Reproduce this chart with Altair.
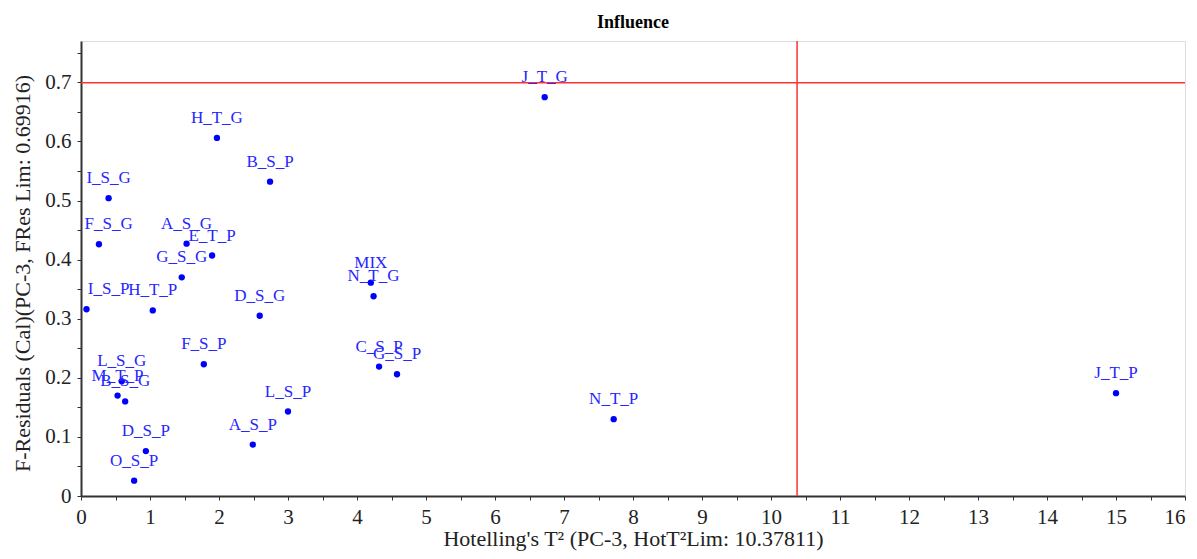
import altair as alt
import pandas as pd
import numpy as np

names = ["J_T_G", "H_T_G", "B_S_P", "I_S_G", "F_S_G", "A_S_G", "E_T_P", "G_S_G",
         "MIX", "N_T_G", "I_S_P", "H_T_P", "D_S_G", "F_S_P", "C_S_P", "G_S_P",
         "J_T_P", "L_S_G", "M_T_P", "B_S_G", "D_S_P", "O_S_P", "A_S_P", "L_S_P", "N_T_P"]
hot_t2 = [6.72, 1.97, 2.74, 0.40, 0.26, 1.53, 1.90, 1.46,
          4.20, 4.24, 0.08, 1.04, 2.59, 1.78, 4.32, 4.58,
          15.0, 0.59, 0.53, 0.64, 0.94, 0.77, 2.49, 3.00, 7.72]
f_res = [0.675, 0.606, 0.532, 0.504, 0.426, 0.427, 0.407, 0.370,
         0.361, 0.338, 0.316, 0.314, 0.305, 0.223, 0.219, 0.206,
         0.174, 0.194, 0.170, 0.160, 0.076, 0.026, 0.087, 0.143, 0.130]

x_ticks = [i * 0.5 for i in range(33)]
y_ticks = [round(i * 0.05, 2) for i in range(16)]
t2_lim = 10.37811
fres_lim = 0.69916

XT = "Hotelling's T\u00b2 (PC-3, HotT\u00b2Lim: 10.37811)"
YT = "F-Residuals (Cal)(PC-3, FRes Lim: 0.69916)"

df = pd.DataFrame({"name": names, "t2": hot_t2, "fres": f_res})
# keep labels inside the plot on the left edge (half label width in data units)
df["lx"] = np.maximum(df["t2"], 0.40)

xs = alt.Scale(domain=[0, 16], nice=False, zero=False)
ys = alt.Scale(domain=[0, 0.77], nice=False, zero=False)

common_axis = dict(
    domainColor="#333333", domainWidth=2, tickColor="#333333", tickSize=4,
    labelFont="Liberation Serif", labelFontSize=21, labelColor="#222222",
    labelPadding=6, titleFont="Liberation Serif", titleFontSize=22,
    titleFontWeight="normal", titleColor="#222222", grid=False,
    labelOverlap=False, labelFlush=False,
)
xaxis = alt.Axis(values=x_ticks,
                 labelExpr="datum.value % 1 == 0 ? format(datum.value, 'd') : ''",
                 labelAlign=alt.condition("datum.value >= 16", alt.value("right"), alt.value("center")),
                 titleY=49, titleBaseline="alphabetic", **common_axis)
yaxis = alt.Axis(values=y_ticks,
                 labelExpr="round(datum.value*100) % 10 == 0 ? format(datum.value, '.1~f') : ''",
                 titleX=-59, titleY=232, titleBaseline="middle", **common_axis)


def X(field):
    return alt.X(field, type="quantitative", scale=xs, axis=xaxis, title=XT)


def Y(field):
    return alt.Y(field, type="quantitative", scale=ys, axis=yaxis, title=YT)


hline = alt.Chart(pd.DataFrame({"v": [fres_lim]})).mark_rule(
    color="#ff3030", strokeWidth=1.5).encode(y=Y("v"))
vline = alt.Chart(pd.DataFrame({"v": [t2_lim]})).mark_rule(
    color="#ff3030", strokeWidth=1.5).encode(x=X("v"))

points = alt.Chart(df).mark_circle(size=40, color="#0000ff", opacity=1).encode(
    x=X("t2"), y=Y("fres"))

labels = alt.Chart(df).mark_text(
    font="Liberation Serif", fontSize=17, color="#2626ff", dy=-15,
    baseline="alphabetic", align="center").encode(
    x=X("lx"), y=Y("fres"), text="name:N")

chart = alt.layer(hline, vline, points, labels).properties(
    width=1104, height=455,
    autosize=alt.AutoSizeParams(type="none"),
    padding={"left": 73, "top": 33, "right": 4, "bottom": 55},
    title=alt.TitleParams("Influence", font="Liberation Serif", fontSize=18,
                          fontWeight="bold", anchor="middle", offset=8,
                          color="black"),
).configure_view(stroke="#808080", strokeWidth=2).configure(background="white")

chart.save("out.html", embed_options={"renderer": "svg", "actions": False})
